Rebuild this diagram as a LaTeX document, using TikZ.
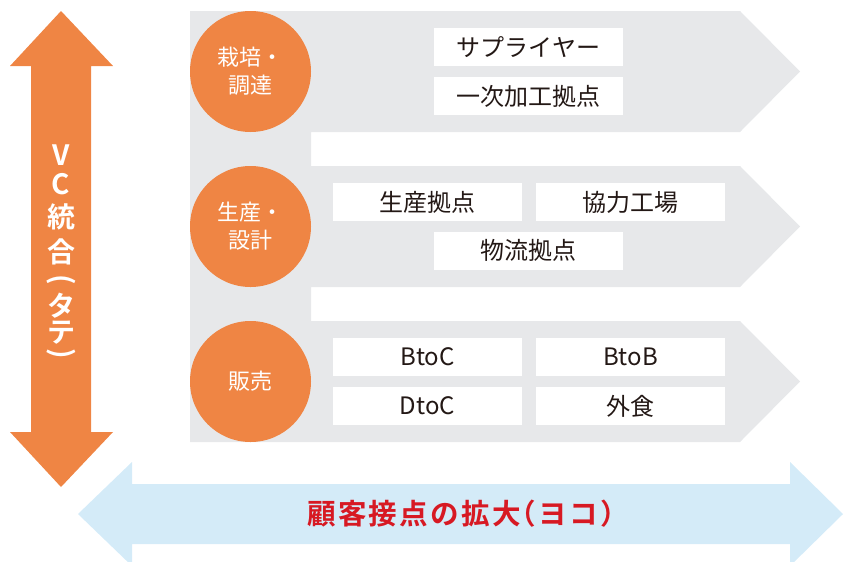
\documentclass[tikz,border=0pt]{standalone}
\usepackage{fontspec}
\setmainfont{Noto Sans CJK JP}
\newfontfamily\jpb{Noto Sans CJK JP Bold}
\newfontfamily\jpbs[LetterSpace=8]{Noto Sans CJK JP Bold}
\definecolor{vcorange}{RGB}{239,133,68}
\definecolor{bandgray}{RGB}{231,232,234}
\definecolor{sideblue}{RGB}{212,235,248}
\definecolor{accentred}{RGB}{215,25,35}
\definecolor{inkdark}{RGB}{35,24,21}
\tikzset{
  stagecircle/.style={circle, fill=vcorange, minimum size=90.75pt, inner sep=0pt, text=white, align=center, font=\fontsize{16.5}{21}\selectfont},
  itembox/.style={rectangle, fill=white, minimum width=141.75pt, minimum height=28.5pt, inner sep=0pt, text=inkdark, font=\fontsize{18}{20}\selectfont},
  vchar/.style={inner sep=0pt, text=white, font=\jpb\fontsize{21}{23}\selectfont},
  redlabel/.style={inner sep=0pt, text=accentred, font=\jpbs\fontsize{21.4}{24}\selectfont}
}
\begin{document}
\begin{tikzpicture}[x=0.75pt,y=-0.75pt]
\useasboundingbox (0,0) rectangle (845,561);
\clip (0,0) rectangle (845,561);
% gray comb of chevrons
\fill[bandgray] (190,11) -- (740,11) -- (800,71.5) -- (740,132) -- (311,132) -- (311,166)
  -- (740,166) -- (800,226.5) -- (740,287) -- (311,287) -- (311,321)
  -- (740,321) -- (800,381.5) -- (740,442) -- (190,442) -- cycle;
% vertical orange double arrow
\fill[vcorange] (61,11) -- (113,66) -- (91,66) -- (91,432) -- (113,432) -- (61,487)
  -- (10,432) -- (31,432) -- (31,66) -- (10,66) -- cycle;
% horizontal blue double arrow
\fill[sideblue] (78,514) -- (132,462) -- (132,484) -- (790,484) -- (790,462) -- (843,514)
  -- (790,566) -- (790,544) -- (132,544) -- (132,566) -- cycle;
% circles
\node[stagecircle] (c1) at (250.5,71.5) {栽培・\\調達};
\node[stagecircle] (c2) at (250.5,226.5) {生産・\\設計};
\node[stagecircle] (c3) at (250.5,381.5) {販売};
% boxes
\node[itembox] (b1) at (528.5,47) {サプライヤー};
\node[itembox] (b2) at (528.5,96) {一次加工拠点};
\node[itembox] (b3) at (427.5,202) {生産拠点};
\node[itembox] (b4) at (630.5,202) {協力工場};
\node[itembox] (b5) at (528.5,250.5) {物流拠点};
\node[itembox] (b6) at (427.5,357) {BtoC};
\node[itembox] (b7) at (630.5,357) {BtoB};
\node[itembox] (b8) at (427.5,406) {DtoC};
\node[itembox] (b9) at (630.5,406) {外食};
% vertical label
\node[vchar] (v1) at (61,155) {V};
\node[vchar] (v2) at (61,184) {C};
\node[vchar] (v3) at (61,217) {統};
\node[vchar] (v4) at (61,252) {合};
\node[vchar, rotate=-90] (v5) at (61,280) {(};
\node[vchar] (v6) at (61,306) {タ};
\node[vchar] (v7) at (61,333) {テ};
\node[vchar, rotate=-90] (v8) at (61,354) {)};
% horizontal label
\node[redlabel, anchor=west] (h1) at (307,514) {顧客接点の拡大\kern-0.45em（ヨコ）};
\end{tikzpicture}
\end{document}
